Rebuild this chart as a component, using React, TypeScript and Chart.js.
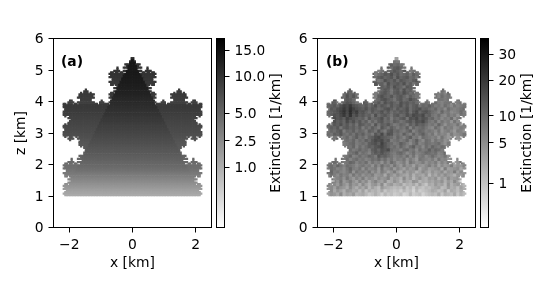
import React, { useEffect, useRef } from "react";
import { Chart, registerables } from "chart.js";

Chart.register(...registerables);

const FONT = "'DejaVu Sans'";
const FS = 13.89;

// grid coordinates in km
const rowZ = [5.375,5.325,5.275,5.225,5.175,5.125,5.075,5.025,4.975,4.925,4.875,4.825,4.775,4.725,4.675,4.625,4.575,4.525,4.475,4.425,4.375,4.325,4.275,4.225,4.175,4.125,4.075,4.025,3.975,3.925,3.875,3.825,3.775,3.725,3.675,3.625,3.575,3.525,3.475,3.425,3.375,3.325,3.275,3.225,3.175,3.125,3.075,3.025,2.975,2.925,2.875,2.825,2.775,2.725,2.675,2.625,2.575,2.525,2.475,2.425,2.375,2.325,2.275,2.225,2.175,2.125,2.075,2.025,1.975,1.925,1.875,1.825,1.775,1.725,1.675,1.625,1.575,1.525,1.475,1.425,1.375,1.325,1.275,1.225,1.175,1.125,1.075,1.025];
const leftX = [-2.175,-2.125,-2.075,-2.025,-1.975,-1.925,-1.875,-1.825,-1.775,-1.725,-1.675,-1.625,-1.575,-1.525,-1.475,-1.425,-1.375,-1.325,-1.275,-1.225,-1.175,-1.125,-1.075,-1.025,-0.975,-0.925,-0.875,-0.825,-0.775,-0.725,-0.675,-0.625,-0.575,-0.525,-0.475,-0.425,-0.375,-0.325,-0.275,-0.225,-0.175,-0.125,-0.075,-0.025];

// outline: filled column ranges of the left half for each row (the shape is mirrored)
const outlineSpans = [
  [43,43],[43,43],[42,43],[42,43],[39,43],[40,43],[34,34,38,43],[34,34,41,43],[32,35,38,43],[30,31,33,34,36,37,40,43],
  [29,43],[30,43],[29,43],[31,43],[31,43],[29,43],[30,43],[30,31,33,43],[34,43],[32,43],
  [14,14,34,43],[13,15,32,43],[11,11,13,15,17,17,30,31,33,43],[10,19,29,43],[10,18,30,43],[9,19,29,43],[11,17,31,43],[4,5,11,17,24,24,30,43],[3,6,9,19,23,25,29,43],[0,1,3,5,7,8,10,21,23,28,30,43],
  [0,43],[0,43],[1,43],[1,43],[0,43],[0,43],[0,43],[1,1,4,43],[3,43],[5,43],
  [4,43],[3,43],[1,1,3,43],[0,43],[0,43],[1,43],[1,43],[0,43],[0,43],[0,43],
  [1,1,4,5,8,8,10,43],[3,6,9,43],[4,4,11,43],[10,43],[10,43],[10,43],[11,11,13,43],[13,43],[14,43],[14,43],
  [13,43],[13,43],[10,43],[11,43],[5,5,9,43],[5,5,12,43],[3,6,9,43],[1,2,4,5,7,8,11,43],[0,43],[1,43],
  [0,43],[2,43],[2,43],[0,43],[1,43],[1,2,4,43],[5,43],[3,43],[5,43],[3,43],
  [1,2,4,43],[0,43],[1,43],[0,43],[2,43],[1,43],[0,43],[1,43],
];

// panel (a): number of left-half columns outside the central triangle in each row
const aOuterCols = [44,43,43,42,42,41,41,40,40,39,39,38,38,37,37,36,36,35,35,34,34,33,33,32,32,31,31,30,30,29,29,28,28,27,27,26,26,25,25,24,24,23,23,22,22,21,21,20,20,19,19,18,18,17,17,16,16,15,15,14,14,13,13,12,12,11,11,10,10,9,9,8,8,7,7,6,6,5,5,4,4,3,3,2,2,1,1,0];
const aInnerExt = [13.8,13.8,13.8,13.8,13.7,13.7,13.6,13.6,13.5,13.5,13.4,13.4,13.3,13.3,13.2,13.1,
  13.0,12.9,12.8,12.7,12.6,12.4,12.3,12.1,12.0,11.8,11.6,11.4,11.2,11.0,10.9,10.7,
  10.6,10.4,10.2,10.1,9.9,9.7,9.5,9.3,9.2,9.0,8.8,8.6,8.5,8.3,8.2,8.0,
  7.9,7.7,7.6,7.4,7.3,7.1,7.0,6.8,6.6,6.4,6.3,6.1,6.0,5.8,5.7,5.5,
  5.4,5.2,5.0,4.9,4.7,4.6,4.4,4.2,3.9,3.7,3.4,3.2,3.0,2.8,2.6,2.4,2.2,2.0,1.85,1.7,1.55,1.4,1.3,1.15];
const aOuterExt = [10.1,10.1,10.1,10.1,10.1,10.1,10.1,10.1,10.1,10.1,10.1,10.1,9.9,9.8,9.7,9.6,
  9.5,9.5,9.4,9.4,9.3,9.3,9.2,9.2,9.2,9.1,9.1,8.9,8.7,8.5,9.3,9.3,
  9.2,9.1,9.0,8.9,8.7,8.6,8.4,8.3,8.1,8.0,7.9,7.8,7.7,7.6,7.5,7.4,
  7.2,7.1,7.0,6.8,6.6,6.5,6.3,6.2,6.1,6.0,5.9,5.7,5.5,5.4,5.2,5.0,
  4.9,4.8,4.6,4.5,4.4,4.3,4.2,4.0,3.8,3.6,3.4,3.2,3.0,2.8,2.6,2.4,2.2,2.0,1.85,1.7,1.55,1.4,1.3,1.15];

// panel (b): base-36 shade per 0.1 km block (0 = darkest, z = lightest), one row per 0.1 km of z
const bShades = [
  "ggggggggggg ggggggggggm mgggggggggg ggggggggggg",
  "ggggggggggg gggggggghfg higgggggggg ggggggggggg",
  "ggggggggggg ggggggghedf eghgggggggg ggggggggggg",
  "ggggggggggg gggggggdcfd cegiggggggg ggggggggggg",
  "ggggggggggg gggggigdfec dfcehggiggg ggggggggggg",
  "ggggggggggg gggdhfecdbe cfedgdfhfgg ggggggggggg",
  "ggggggggggg gggefdcedcf bedcfegdegg ggggggggggg",
  "ggggggggggg gggdegfbdec fcdefdcfhgg ggggggggggg",
  "ggggggggggg gggfcedgbed cebfdgefdgg ggggggggggg",
  "ggggggggggg gggggfdecfb degcdfggggg ggggggggggg",
  "ggggggfdggg ggggggecdgd cfbedgggggg gggfhgggggg",
  "gggggfcedgg gggghfdcegd cebdfeggggg gghgifhgggg",
  "ggggdfbecfg gggghdbdecf dcegdfggggg ggifhgihggg",
  "ggcggecdfgg gdggfecbdeg dcfebdegege gggghgifgig",
  "gcdggdbcegg cdgdecfbdce fbdcedfhgfh gfhiggghhgi",
  "edceb9a8bcd ecfdbecdfce dbecfdcgefd fhgifhjgihg",
  "gcdba8a79bc dbecdfecbdf cedbfdcbedf gehgjfhihgf",
  "edcb97a6a8c bdfcedbecfd ecdbfcaecbd fgiehgjihfh",
  "fdbca8b7cad cedgbfdcegd cfebdabcaed ghfijgihkgh",
  "geacbd9bcde dgcfedbfdhe fdcgbcadbcf ehgjhifkhgi",
  "gfbdceadbec fdhegdcfegd egfdcebcadg hfjgihkgjih",
  "efcdbecfdgc dfehcgdecfh gefhdfcedfh giehkhijgkh",
  "fdecgdcedfd hegdfhcegdf hfgdiegfegi jfhkgihkjhi",
  "gefdchefdge fhdegcfhdcf eghfdigefhg hjgkihjlhik",
  "fgdecfgegdf dgfhceafbcg fhdgiehfdgi gkhjilhkjig",
  "gfgdfgehfdg fhedbacdefh egifdhgjfgh ihkgjlihkjh",
  "hggffgfgehf gdfcabadchg fhgeigdhjfg jgihkjgiljk",
  "gghgfhgfehg fgdcbd9cefh gdfhjgeihfg hgfikhjkgih",
  "gghgghfgeif hfdecbacegf hegifdhgjfh eghfgjihkgh",
  "ggggghgfhge gfhdcebcafg gifehgjfhgd gefhdgikhig",
  "gggggghgfdh fgiecdbdegh fegjhfihgef gfihehkjihg",
  "ggggfhgeihf hgefhcedfgi hgifjgkhgjh fhjigkihkjg",
  "gggfghfigfh gihfgehfigj higkhjlghij hkgjilkhjig",
  "ggfgghgefig hfjgihkgjfh kjhlgikjhki jhlikhjmkgj",
  "gfhegifghjh gihkgjfihkg jlhkjmikljh kimjlkhmkli",
  "hfgihjgehig kgjihlgkjhl ikmjlkhnkjm lkjnhmlkjnk",
  "gehgijhfkgi hjgkilhjmkh lnjmklomjln kmljnklhmjl",
  "ifhjgihkgjh kijhlkjnikm jlmnkolmnkp lnkmjlmoklj",
  "hgjihkgjlik hljkmjlkinl mojnlpmknol mkolnjmlknm",
  "jhikgljhkmi ljnkilmjonk mplnoklpnom nlmkolnjmol",
  "ikjlhkmilkn jmolknjpmlo nmqopnqmprn olnmpkomlnp",
  "kjmiklnjmol nkpmoqlnopq pqnrpsoqrpq onmqplonqmo",
  "ljnkmoklnmp mqnpoqnrpqr qsprqtpsrqp noqpmrnoqnp",
  "mklnjomnlpo nprqoqsprqs rqtspsrqtrq pqnropqnroq",
];

const xTickValues = [-2, 0, 2];
const zTickValues = [0, 1, 2, 3, 4, 5, 6];
const aBarTicks = [1, 2.5, 5, 10, 15];
const aBarLabels = ["1.0", "2.5", "5.0", "10.0", "15.0"];
const bBarTicks = [1, 5, 10, 20, 30];
const bBarLabels = ["1", "5", "10", "20", "30"];
const aMax = 17.6;
const bMax = 37.4;
const GAMMA = 0.4;

type Cell = { x: number; y: number; v: number };

const colX = [...leftX, ...leftX.map((x) => -x).reverse()];

const isFilled = (row: number, col: number) => {
  const c = col <= 43 ? col : 87 - col;
  const s = outlineSpans[row];
  for (let k = 0; k < s.length; k += 2) if (c >= s[k] && c <= s[k + 1]) return true;
  return false;
};

const cellsA = (): Cell[] => {
  const out: Cell[] = [];
  rowZ.forEach((z, r) =>
    colX.forEach((x, c) => {
      if (!isFilled(r, c)) return;
      const m = c <= 43 ? c : 87 - c;
      out.push({ x, y: z, v: m < aOuterCols[r] ? aOuterExt[r] : aInnerExt[r] });
    })
  );
  return out;
};

const cellsB = (): Cell[] => {
  const out: Cell[] = [];
  rowZ.forEach((z, r) => {
    const line = bShades[r >> 1].replace(/ /g, "");
    colX.forEach((x, c) => {
      if (!isFilled(r, c)) return;
      const level = parseInt(line[c >> 1] ?? "g", 36);
      out.push({ x, y: z, v: bMax * Math.pow(1 - level / 35, 1 / GAMMA) });
    });
  });
  return out;
};

const grayFor = (v: number, vmax: number) => {
  const g = Math.round(255 * (1 - Math.pow(Math.min(v / vmax, 1), GAMMA)));
  return `rgb(${g},${g},${g})`;
};

const font = { family: FONT, size: FS };
const tickGrid = {
  display: true,
  drawOnChartArea: false,
  drawTicks: true,
  tickLength: 5,
  tickColor: "#000",
  tickWidth: 1,
};

const TOP = 38.5;
const BOTTOM = 227.5;

const framePlugin = {
  id: "frame",
  afterDraw(chart: any) {
    const { ctx, chartArea: a } = chart;
    ctx.save();
    ctx.strokeStyle = "#000";
    ctx.lineWidth = 1;
    ctx.strokeRect(a.left, a.top, a.right - a.left, a.bottom - a.top);
    ctx.restore();
  },
};

const labelPlugin = (text: string, x: number, y: number, bold: boolean, rotated: boolean) => ({
  id: "label",
  afterDraw(chart: any) {
    const { ctx } = chart;
    ctx.save();
    ctx.fillStyle = "#000";
    ctx.font = `${bold ? "bold " : ""}${FS}px ${FONT}`;
    ctx.textBaseline = "middle";
    ctx.textAlign = rotated ? "center" : "left";
    ctx.translate(x, y);
    if (rotated) ctx.rotate(-Math.PI / 2);
    ctx.fillText(text, 0, 0);
    ctx.restore();
  },
});

function makeMap(canvas: HTMLCanvasElement, cells: Cell[], vmax: number, left: number, right: number, letter: string, letterX: number, zTitle: boolean) {
  const yWidth = zTitle ? left - 12.7 : 40;
  const xHeight = 43.8;
  return new Chart(canvas, {
    type: "scatter",
    data: {
      datasets: [
        {
          data: cells,
          showLine: false,
          pointStyle: "rect",
          pointRadius: 1.6,
          pointBorderWidth: 0,
          pointBackgroundColor: cells.map((c) => grayFor(c.v, vmax)),
        } as any,
      ],
    },
    options: {
      responsive: false,
      animation: false,
      events: [],
      layout: {
        autoPadding: false,
        padding: { left: left - yWidth, right: 550 - right, top: TOP, bottom: 300 - BOTTOM - xHeight },
      },
      plugins: { legend: { display: false }, tooltip: { enabled: false } },
      scales: {
        x: {
          type: "linear",
          min: -2.5,
          max: 2.5,
          afterBuildTicks: (s: any) => { s.ticks = xTickValues.map((value) => ({ value })); },
          afterFit: (s: any) => { s.height = xHeight; },
          ticks: {
            color: "#000",
            font,
            padding: 5,
            maxRotation: 0,
            autoSkip: false,
            callback: (v: any) => String(v).replace("-", "\u2212"),
          },
          grid: tickGrid,
          border: { display: false },
          title: { display: true, text: "x [km]", color: "#000", font, padding: 0 },
        },
        y: {
          type: "linear",
          min: 0,
          max: 6,
          afterBuildTicks: (s: any) => { s.ticks = zTickValues.map((value) => ({ value })); },
          afterFit: (s: any) => { s.width = yWidth; },
          ticks: { color: "#000", font, padding: 5, autoSkip: false, labelOffset: 1 },
          grid: tickGrid,
          border: { display: false },
          title: { display: zTitle, text: "z [km]", color: "#000", font, padding: 0 },
        },
      },
    } as any,
    plugins: [framePlugin, labelPlugin(letter, letterX, 62.5, true, false)],
  });
}

function makeBar(canvas: HTMLCanvasElement, vmax: number, tickVals: number[], tickLabels: string[], left: number, right: number, titleX: number) {
  const yWidth = 40;
  const pos = (v: number) => Math.pow(v / vmax, GAMMA);
  return new Chart(canvas, {
    type: "bar",
    data: {
      labels: [""],
      datasets: [
        {
          data: [[0, 1]],
          barPercentage: 1,
          categoryPercentage: 1,
          borderWidth: 0,
          backgroundColor: (c: any) => {
            const area = c.chart.chartArea;
            if (!area) return "#888";
            const g = c.chart.ctx.createLinearGradient(0, area.bottom, 0, area.top);
            g.addColorStop(0, "#fff");
            g.addColorStop(1, "#000");
            return g;
          },
        } as any,
      ],
    },
    options: {
      responsive: false,
      animation: false,
      events: [],
      layout: {
        autoPadding: false,
        padding: { left, right: 550 - right - yWidth, top: TOP, bottom: 300 - BOTTOM },
      },
      plugins: { legend: { display: false }, tooltip: { enabled: false } },
      scales: {
        x: { display: false },
        y: {
          type: "linear",
          position: "right",
          min: 0,
          max: 1,
          afterBuildTicks: (s: any) => { s.ticks = tickVals.map((v) => ({ value: pos(v) })); },
          afterFit: (s: any) => { s.width = yWidth; },
          ticks: {
            color: "#000",
            font,
            padding: 5,
            autoSkip: false,
            labelOffset: 1,
            callback: (_v: any, i: number) => tickLabels[i],
          },
          grid: tickGrid,
          border: { display: false },
        },
      },
    } as any,
    plugins: [framePlugin, labelPlugin("Extinction [1/km]", titleX, 133, false, true)],
  });
}

const canvasStyle: React.CSSProperties = { position: "absolute", left: 0, top: 0, display: "block" };

export default function App() {
  const r1 = useRef<HTMLCanvasElement>(null);
  const r2 = useRef<HTMLCanvasElement>(null);
  const r3 = useRef<HTMLCanvasElement>(null);
  const r4 = useRef<HTMLCanvasElement>(null);

  useEffect(() => {
    const charts = [
      makeMap(r1.current!, cellsA(), aMax, 53.5, 211.5, "(a)", 61, true),
      makeBar(r2.current!, aMax, aBarTicks, aBarLabels, 216.5, 224.5, 276),
      makeMap(r3.current!, cellsB(), bMax, 317.5, 475.5, "(b)", 326, false),
      makeBar(r4.current!, bMax, bBarTicks, bBarLabels, 480.5, 488.5, 527),
    ];
    return () => charts.forEach((c) => c.destroy());
  }, []);

  return (
    <div style={{ position: "absolute", left: 0, top: 0, width: 550, height: 300, overflow: "hidden", background: "#fff" }}>
      <canvas ref={r1} width={550} height={300} style={canvasStyle} />
      <canvas ref={r2} width={550} height={300} style={canvasStyle} />
      <canvas ref={r3} width={550} height={300} style={canvasStyle} />
      <canvas ref={r4} width={550} height={300} style={canvasStyle} />
    </div>
  );
}
